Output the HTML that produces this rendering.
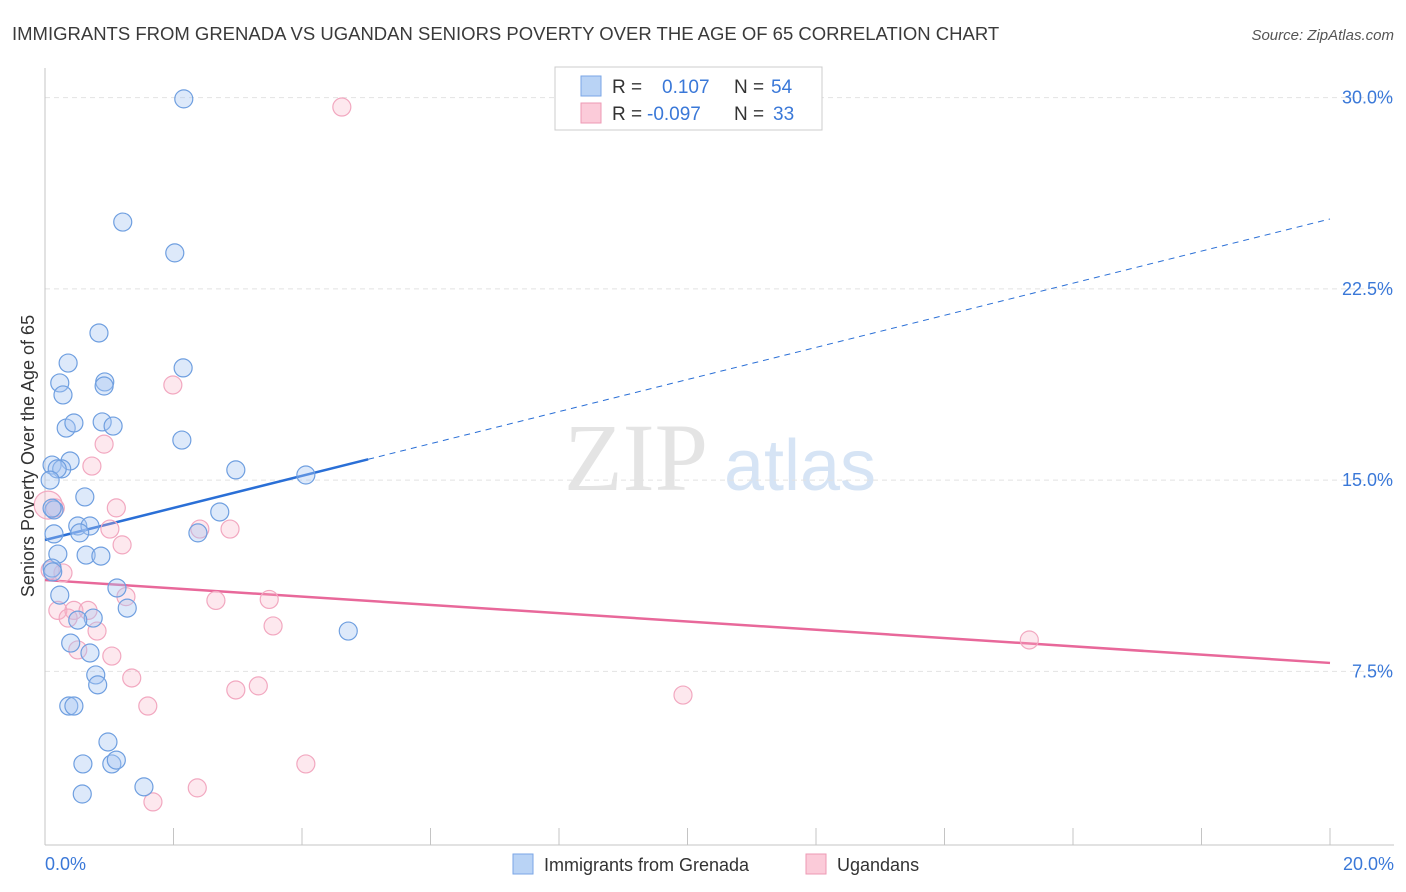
<!DOCTYPE html>
<html><head><meta charset="utf-8"><style>
body{margin:0;background:#fff;font-family:"Liberation Sans",sans-serif}
svg{display:block}
</style></head><body>
<svg width="1406" height="892" xmlns="http://www.w3.org/2000/svg">
<text x="12" y="40" font-size="18.5" fill="#3a3a3a">IMMIGRANTS FROM GRENADA VS UGANDAN SENIORS POVERTY OVER THE AGE OF 65 CORRELATION CHART</text>
<text x="1394" y="40" font-size="15" fill="#555" font-style="italic" text-anchor="end">Source: ZipAtlas.com</text>
<text x="636" y="490" font-size="96" fill="#e4e4e4" font-family="Liberation Serif" text-anchor="middle">ZIP</text>
<text x="800" y="490" font-size="72" fill="#d6e4f5" text-anchor="middle">atlas</text>
<g id="grid"></g>
<line x1="45" y1="68" x2="45" y2="845" stroke="#c4c4c4"/>
<line x1="45" y1="845" x2="1394" y2="845" stroke="#c4c4c4"/>
<g id="ticks"></g>
<g id="trend"></g>
<g id="pts"></g>
<text x="34" y="456" font-size="18" fill="#333" text-anchor="middle" transform="rotate(-90 34 456)">Seniors Poverty Over the Age of 65</text>
<text x="45" y="870" font-size="18" fill="#3a78d8">0.0%</text>
<text x="1394" y="870" font-size="18" fill="#3a78d8" text-anchor="end">20.0%</text>
<g>
<rect x="555" y="67" width="267" height="63" fill="#fff" stroke="#ccc"/>
<rect x="581" y="76" width="20" height="20" fill="#b9d3f5" stroke="#7aa6e6"/>
<rect x="581" y="103" width="20" height="20" fill="#fbcbd9" stroke="#ee9ab4"/>
<text x="612" y="93" font-size="19" fill="#333">R =</text>
<text x="662" y="93" font-size="19" fill="#3a78d8">0.107</text>
<text x="734" y="93" font-size="19" fill="#333">N =</text>
<text x="771" y="93" font-size="19" fill="#3a78d8">54</text>
<text x="612" y="120" font-size="19" fill="#333">R =</text>
<text x="647" y="120" font-size="19" fill="#3a78d8">-0.097</text>
<text x="734" y="120" font-size="19" fill="#333">N =</text>
<text x="773" y="120" font-size="19" fill="#3a78d8">33</text>
</g>
<g>
<rect x="513" y="854" width="20" height="20" fill="#b9d3f5" stroke="#7aa6e6"/>
<text x="544" y="871" font-size="18" fill="#333">Immigrants from Grenada</text>
<rect x="806" y="854" width="20" height="20" fill="#fbcbd9" stroke="#ee9ab4"/>
<text x="837" y="871" font-size="18" fill="#333">Ugandans</text>
</g>
</svg>
<script>
const yTicks=[7.5,15,22.5,30];
const xTicks=[2,4,6,8,10,12,14,16,18,20];
const blueX=[2.16,1.21,2.02,0.84,0.36,2.15,0.23,0.93,0.92,0.28,0.89,1.06,0.33,0.45,2.13,0.39,0.11,0.26,0.19,2.97,4.06,0.08,0.62,0.14,0.11,2.72,0.51,0.70,0.54,2.38,0.14,0.20,0.64,0.87,0.11,0.12,1.12,0.23,1.28,0.75,0.51,4.72,0.40,0.70,0.79,0.82,0.37,0.45,0.98,0.59,1.04,1.11,1.54,0.58];
const blueY=[29.95,25.12,23.91,20.77,19.59,19.40,18.81,18.85,18.69,18.34,17.28,17.12,17.04,17.24,16.57,15.75,15.59,15.44,15.44,15.40,15.20,15.00,14.34,13.83,13.90,13.75,13.20,13.20,12.93,12.93,12.89,12.10,12.06,12.02,11.55,11.40,10.77,10.49,9.98,9.59,9.51,9.08,8.61,8.22,7.36,6.97,6.14,6.14,4.73,3.87,3.87,4.02,2.97,2.69];
const pinkX=[4.62,1.99,0.92,0.73,1.11,0.16,1.01,2.88,2.41,1.20,0.28,0.08,1.26,2.66,3.49,0.20,0.45,0.67,0.36,0.81,3.55,0.51,1.04,15.32,1.35,2.97,3.32,9.93,1.60,4.06,2.37,1.68,0.05];
const pinkY=[29.63,18.73,16.41,15.55,13.91,13.91,13.08,13.08,13.08,12.46,11.36,11.47,10.43,10.28,10.32,9.89,9.89,9.89,9.59,9.08,9.28,8.34,8.10,8.73,7.24,6.77,6.93,6.57,6.14,3.87,2.93,2.38,14.02];
const blueTrend=[12.65,25.24]; const blueSolidEnd=5.03;
const pinkTrend=[11.08,7.83];
const NS="http://www.w3.org/2000/svg";
const sx=v=>45+v*64.25, sy=v=>862.6-v*25.5;
function mk(t,a,p){const e=document.createElementNS(NS,t);for(const k in a)e.setAttribute(k,a[k]);p.appendChild(e);return e;}
const grid=document.getElementById('grid');
yTicks.forEach(v=>{
 const l=mk('line',{x1:45,x2:1394,y1:sy(v),y2:sy(v),stroke:'#e2e2e2','stroke-dasharray':'5,4'},grid);
 
 
 const t=mk('text',{x:1393,y:sy(v)+6,'font-size':18,fill:'#3a78d8','text-anchor':'end'},grid);
 t.textContent=v.toFixed(1)+'%';
 
 
});
const tk=document.getElementById('ticks');
xTicks.forEach(v=>{
 const l=mk('line',{x1:sx(v),x2:sx(v),y1:828,y2:845,stroke:'#c4c4c4'},tk);
 
 
});
const pts=document.getElementById('pts');
pinkX.forEach((x,i)=>{
 const c=mk('circle',{cx:sx(x),cy:sy(pinkY[i]),r:i==pinkX.length-1?14:9,fill:'rgba(248,180,200,0.3)',stroke:'#f2a8c0','stroke-width':1.2},pts);
 
 
});
blueX.forEach((x,i)=>{
 const c=mk('circle',{cx:sx(x),cy:sy(blueY[i]),r:9,fill:'rgba(165,198,242,0.38)',stroke:'#6f9fe0','stroke-width':1.2},pts);
 
 
});
const tr=document.getElementById('trend');
const bAt=x=>blueTrend[0]+(blueTrend[1]-blueTrend[0])*x/20;
let l1=mk('line',{x1:sx(0),y1:sy(bAt(0)),x2:sx(blueSolidEnd),y2:sy(bAt(blueSolidEnd)),stroke:'#2a6fd6','stroke-width':2.5},tr);


let l2=mk('line',{x1:sx(blueSolidEnd),y1:sy(bAt(blueSolidEnd)),x2:sx(20),y2:sy(bAt(20)),stroke:'#2a6fd6','stroke-width':1,'stroke-dasharray':'6,5'},tr);


let l3=mk('line',{x1:sx(0),y1:sy(pinkTrend[0]),x2:sx(20),y2:sy(pinkTrend[1]),stroke:'#e8689a','stroke-width':2.5},tr);


</script>
</body></html>
